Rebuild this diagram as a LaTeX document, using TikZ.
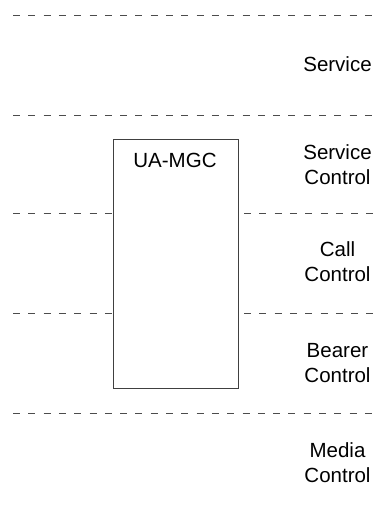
\documentclass[tikz,border=0pt]{standalone}
\usepackage{fontspec}
\setmainfont{Liberation Sans}
\begin{document}
\begin{tikzpicture}[x=1pt,y=-1pt,
  layer/.style={draw=black!70,line width=0.9pt,dash pattern=on 7pt off 8.3pt},
  lbl/.style={font=\fontsize{20.5}{25}\selectfont,align=center,inner sep=0pt,text=black},
  unit/.style={draw=black!75,line width=0.9pt,minimum width=125pt,minimum height=249pt,inner sep=0pt}]
\useasboundingbox[fill=white] (0,0) rectangle (379,510);
% layer boundaries
\coordinate (l1a) at (13,15);  \coordinate (l1b) at (375,15);
\coordinate (l2a) at (13,115); \coordinate (l2b) at (375,115);
\coordinate (l3a) at (13,213); \coordinate (l3b) at (244,213); \coordinate (l3c) at (375,213);
\coordinate (l4a) at (13,313); \coordinate (l4b) at (244,313); \coordinate (l4c) at (375,313);
\coordinate (l5a) at (13,413); \coordinate (l5b) at (375,413);
\node[unit] (box) at (175.5,263.5) {};
\node[lbl] (mgc) at (175,160) {UA-MGC};
\draw[layer] (l1a) -- (l1b);
\draw[layer] (l2a) -- (l2b);
\draw[layer] (l3a) -- (box.west |- l3a);
\draw[layer] (l3b) -- (l3c);
\draw[layer] (l4a) -- (box.west |- l4a);
\draw[layer] (l4b) -- (l4c);
\draw[layer] (l5a) -- (l5b);
% layer names
\node[lbl] (svc) at (337.5,64) {Service};
\node[lbl] (svcctl) at (337.5,164.5) {Service\\Control};
\node[lbl] (callctl) at (337.5,262) {Call\\Control};
\node[lbl] (bearctl) at (337.5,363) {Bearer\\Control};
\node[lbl] (mediactl) at (337.5,463) {Media\\Control};
\end{tikzpicture}
\end{document}
